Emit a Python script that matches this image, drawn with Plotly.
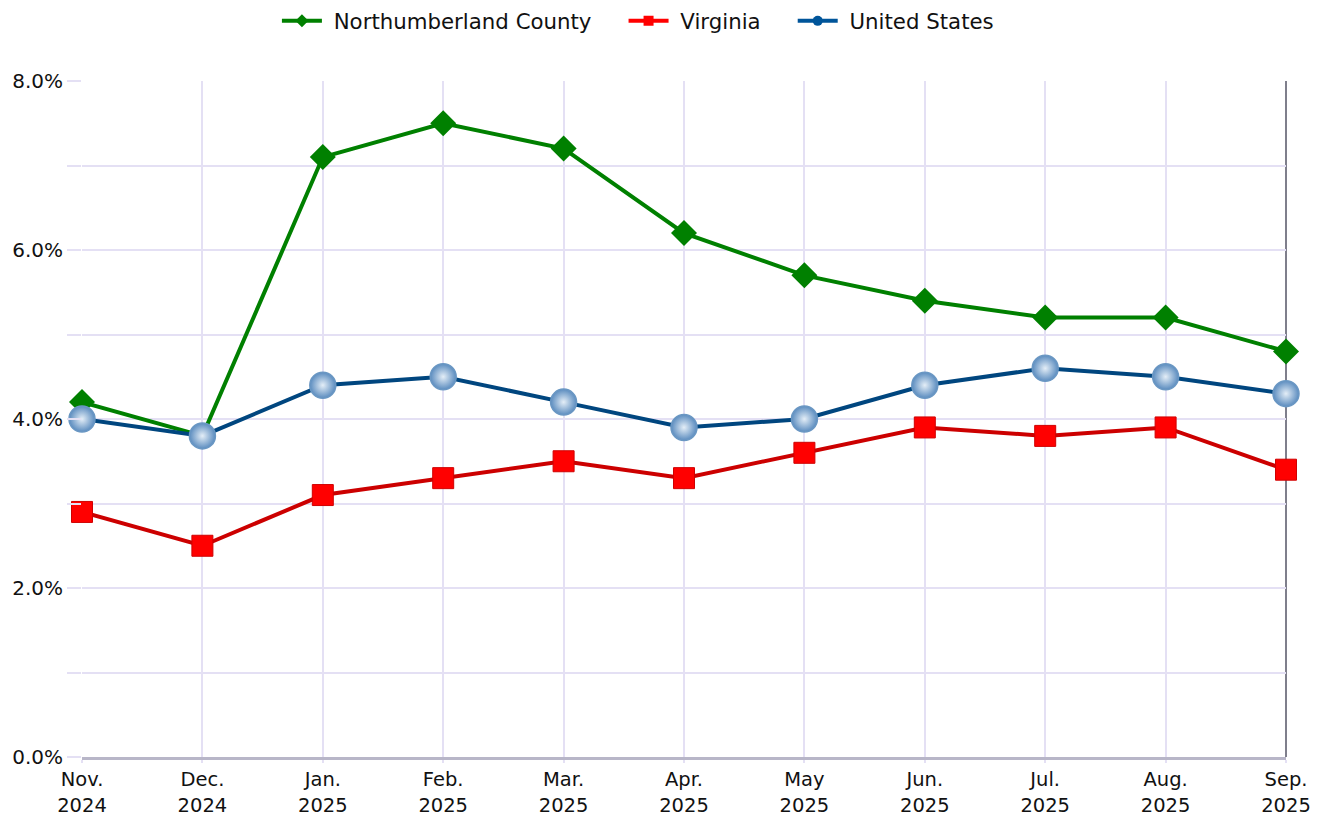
import plotly.graph_objects as go

months = ["Nov.<br>2024", "Dec.<br>2024", "Jan.<br>2025", "Feb.<br>2025", "Mar.<br>2025",
          "Apr.<br>2025", "May<br>2025", "Jun.<br>2025", "Jul.<br>2025", "Aug.<br>2025", "Sep.<br>2025"]
northumberland = [4.2, 3.8, 7.1, 7.5, 7.2, 6.2, 5.7, 5.4, 5.2, 5.2, 4.8]
virginia = [2.9, 2.5, 3.1, 3.3, 3.5, 3.3, 3.6, 3.9, 3.8, 3.9, 3.4]
united_states = [4.0, 3.8, 4.4, 4.5, 4.2, 3.9, 4.0, 4.4, 4.6, 4.5, 4.3]
ytick_vals = [0, 1, 2, 3, 4, 5, 6, 7, 8]
ytick_text = ["0.0%", "", "2.0%", "", "4.0%", "", "6.0%", "", "8.0%"]

FONT = "DejaVu Sans, Verdana, sans-serif"
NB = "\u00a0"
PAD = NB * 4

fig = go.Figure()

fig.add_trace(go.Scatter(
    x=months, y=northumberland, mode="lines+markers", name="Northumberland County",
    line=dict(color="#008000", width=4),
    marker=dict(symbol="diamond", size=20, color="#008000", line=dict(width=0)),
    cliponaxis=False, showlegend=False))
fig.add_trace(go.Scatter(
    x=months, y=virginia, mode="lines+markers", name="Virginia",
    line=dict(color="#cc0000", width=4),
    marker=dict(symbol="square", size=21, color="#ff0000", line=dict(width=1, color="#d00000")),
    cliponaxis=False, showlegend=False))
fig.add_trace(go.Scatter(
    x=months, y=united_states, mode="lines+markers", name="United States",
    line=dict(color="#00467f", width=4),
    marker=dict(symbol="circle", size=26, color="#5b8cbf",
                gradient=dict(type="radial", color="#e4eef7"),
                line=dict(width=1.5, color="#6a97c3")),
    cliponaxis=False, showlegend=False))

# legend entries
fig.add_trace(go.Scatter(x=[None], y=[None], mode="lines+markers",
                         name=NB + "Northumberland County" + PAD,
                         line=dict(color="#008000", width=4),
                         marker=dict(symbol="diamond", size=10, color="#008000")))
fig.add_trace(go.Scatter(x=[None], y=[None], mode="lines+markers",
                         name=NB + "Virginia" + PAD,
                         line=dict(color="#ff0000", width=4),
                         marker=dict(symbol="square", size=10, color="#ff0000")))
fig.add_trace(go.Scatter(x=[None], y=[None], mode="lines+markers",
                         name=NB + "United States",
                         line=dict(color="#00559a", width=4),
                         marker=dict(symbol="circle", size=10, color="#00559a")))

fig.update_layout(
    width=1315, height=808,
    margin=dict(l=74, r=37, t=73, b=59, autoexpand=False),
    paper_bgcolor="white", plot_bgcolor="white",
    font=dict(family=FONT, size=20, color="#111111"),
    legend=dict(orientation="h", xref="container", x=0.2045, xanchor="left",
                yref="container", y=0.9839, yanchor="middle",
                font=dict(size=21.3), itemwidth=40, traceorder="normal"),
    xaxis=dict(
        type="category", range=[0, 10], showgrid=True, gridcolor="#e4e0f4", gridwidth=1.5,
        ticks="outside", ticklen=3, tickcolor="#e4e0f4", tickwidth=1.5,
        showline=True, linecolor="#b8b6c8", linewidth=2.5, zeroline=False,
        tickfont=dict(size=19.5), fixedrange=True, automargin=False),
    yaxis=dict(
        range=[0, 8], showgrid=True, gridcolor="#e4e0f4", gridwidth=1.5,
        ticks="outside", ticklen=14, tickcolor="#e4e0f4", tickwidth=1.5,
        tickvals=ytick_vals, ticktext=ytick_text,
        showline=False, zeroline=False, tickfont=dict(size=20), fixedrange=True,
        automargin=False),
    shapes=[dict(type="line", xref="paper", yref="paper", x0=1, x1=1, y0=0, y1=1,
                 line=dict(color="#555566", width=1.5), layer="below")],
)

fig.write_html("out.html")
